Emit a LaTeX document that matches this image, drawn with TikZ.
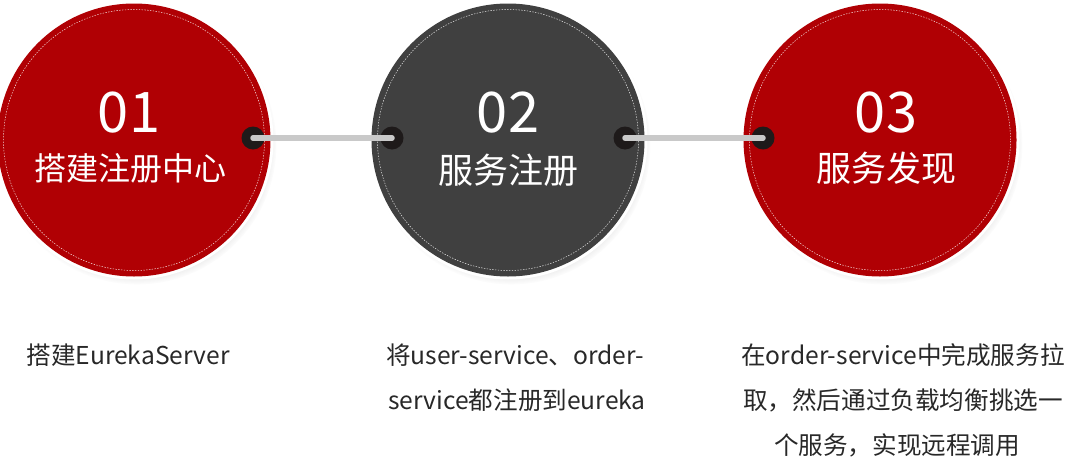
\documentclass[tikz,border=0pt]{standalone}
\usepackage{fontspec}
\setmainfont{Noto Sans CJK SC}
\usetikzlibrary{shadows}
\definecolor{cred}{RGB}{176,0,4}
\definecolor{cgray}{RGB}{64,64,64}
\definecolor{cdot}{RGB}{30,26,26}
\definecolor{cline}{RGB}{201,201,201}
\definecolor{ctext}{RGB}{40,40,40}
\tikzset{
  ring/.style={circle, inner sep=0pt, minimum size=279pt, fill=white,
    circular drop shadow={shadow xshift=3pt, shadow yshift=-5pt, shadow scale=1.0, opacity=0.35}},
  disc/.style={circle, inner sep=0pt, minimum size=273pt, fill=#1},
  stitch/.style={circle, inner sep=0pt, minimum size=261pt, draw=white, line width=0.5pt,
    dash pattern=on 1.4pt off 1.4pt, opacity=0.85},
  pin/.style={circle, inner sep=0pt, minimum size=23pt, fill=cdot},
  conn/.style={draw=cline, line width=5.5pt, line cap=round},
  num/.style={anchor=base, text=white, font=\fontsize{56}{56}\selectfont},
  ttl/.style={anchor=base, text=white, font=\fontsize{#1}{#1}\selectfont},
  desc/.style={anchor=base, text=ctext, font=\fontsize{24.6}{28}\selectfont, inner sep=0pt}
}
\begin{document}
\begin{tikzpicture}[x=1pt,y=-1pt]
\useasboundingbox (0,0) rectangle (1075,471);
\fill[white] (0,0) rectangle (1075,471);
% circles
\node[ring] (r1) at (134,140) {};
\node[ring] (r2) at (508,140) {};
\node[ring] (r3) at (880,140) {};
\node[disc=cred] (c1) at (134,140) {};
\node[disc=cgray] (c2) at (508,140) {};
\node[disc=cred] (c3) at (880,140) {};
\node[stitch] (s1) at (134,140) {};
\node[stitch] (s2) at (508,140) {};
\node[stitch] (s3) at (880,140) {};
% pins
\node[pin] (p1) at (253,138) {};
\node[pin] (p2) at (392,138) {};
\node[pin] (p3) at (625,138) {};
\node[pin] (p4) at (763,138) {};
\draw[conn] (p1.center) -- (p2.center);
\draw[conn] (p3.center) -- (p4.center);
% circle texts
\node[num] (n1) at (129,132) {01};
\node[num] (n2) at (508,132) {02};
\node[num] (n3) at (886,132) {03};
\node[ttl=32] (t1) at (130,180) {搭建注册中心};
\node[ttl=35] (t2) at (508,183) {服务注册};
\node[ttl=35] (t3) at (886,181) {服务发现};
% descriptions
\node[desc] (d1) at (128,364) {搭建EurekaServer};
\node[desc] (d2a) at (515,364) {将user-service、order-};
\node[desc] (d2b) at (517,409) {service都注册到eureka};
\node[desc] (d3a) at (903,364) {在order-service中完成服务拉};
\node[desc] (d3b) at (903,409) {取，然后通过负载均衡挑选一};
\node[desc] (d3c) at (897,454) {个服务，实现远程调用};
\end{tikzpicture}
\end{document}
